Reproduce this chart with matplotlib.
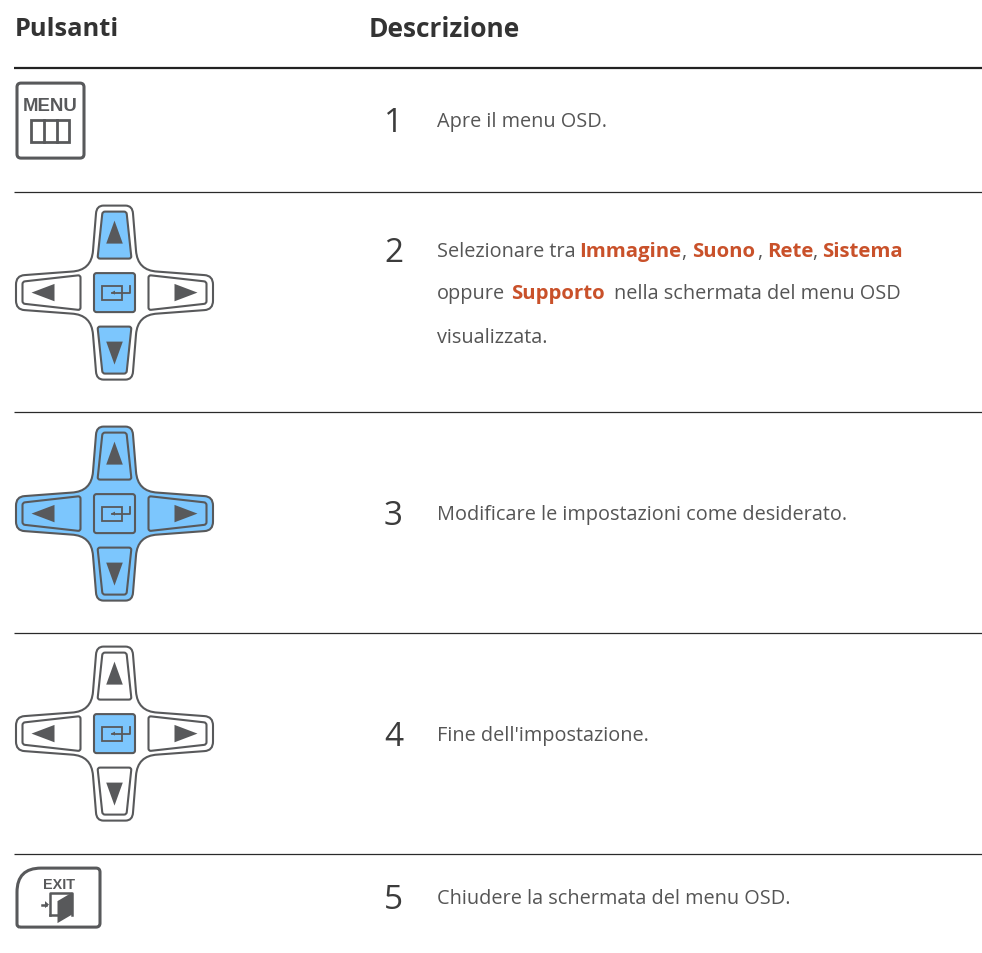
import matplotlib
matplotlib.use("Agg")
import matplotlib.pyplot as plt
import numpy as np
from matplotlib.path import Path
from matplotlib.patches import PathPatch, Polygon, FancyBboxPatch

W, H = 982, 954
GREY = "#58595b"
BLUE = "#7cc6fd"
ORANGE = "#c9512a"
TXT = "#555555"
DARK = "#3c3c3c"
FONT = "Open Sans"

headers = ["Pulsanti", "Descrizione"]
header_size = [18.3, 19.0]
numbers = ["1", "2", "3", "4", "5"]
number_y = [119, 249, 512, 733, 896]
rule_y = [192, 412, 633, 854]
pad_y = [293, 514, 734]
pad_fill = [
    dict(body=False, up=True, down=True, left=False, right=False, centre=True),
    dict(body=True, up=True, down=True, left=True, right=True, centre=True),
    dict(body=False, up=False, down=False, left=False, right=False, centre=True),
]
descriptions = [
    (437, 119, "Apre il menu OSD.", False),
    (437, 249, "Selezionare tra", False),
    (579, 249, "Immagine", True),
    (681, 249, ",", False),
    (692, 249, "Suono", True),
    (757, 249, ",", False),
    (767, 249, "Rete", True),
    (812, 249, ",", False),
    (822, 249, "Sistema", True),
    (437, 291, "oppure", False),
    (511, 291, "Supporto", True),
    (614, 291, "nella schermata del menu OSD", False),
    (437, 335, "visualizzata.", False),
    (437, 512, "Modificare le impostazioni come desiderato.", False),
    (437, 733, "Fine dell'impostazione.", False),
    (437, 896, "Chiudere la schermata del menu OSD.", False),
]

fig = plt.figure(figsize=(W / 100, H / 100), dpi=100)
ax = fig.add_axes([0, 0, 1, 1])
ax.set_xlim(0, W)
ax.set_ylim(H - 0.6, -0.6)
ax.axis("off")


def shape(verts, codes, fc="none", ec=GREY, lw=1.4, z=2):
    ax.add_patch(PathPatch(Path(verts, codes), facecolor=fc, edgecolor=ec, linewidth=lw, zorder=z,
                           joinstyle="round"))


M, L, C, Z = Path.MOVETO, Path.LINETO, Path.CURVE3, Path.CLOSEPOLY


def cross(cx, cy, fc):
    v, c = [(cx - 11, cy - 87)], [M]
    q = [((11, -87), L), ((18, -87), C), ((18.5, -79), C), ((21.5, -42), L), ((23, -22), C), ((43, -21), C),
         ((90, -17.5), L), ((98.5, -17), C), ((98.5, -8), C), ((98.5, 8), L), ((98.5, 17), C), ((90, 17.5), C),
         ((43, 21), L), ((23, 22), C), ((21.5, 42), C), ((18.5, 79), L), ((18, 87), C), ((11, 87), C),
         ((-11, 87), L), ((-18, 87), C), ((-18.5, 79), C), ((-21.5, 42), L), ((-23, 22), C), ((-43, 21), C),
         ((-90, 17.5), L), ((-98.5, 17), C), ((-98.5, 8), C), ((-98.5, -8), L), ((-98.5, -17), C), ((-90, -17.5), C),
         ((-43, -21), L), ((-23, -22), C), ((-21.5, -42), C), ((-18.5, -79), L), ((-18, -87), C), ((-11, -87), C)]
    for (dx, dy), code in q:
        v.append((cx + dx, cy + dy))
        c.append(code)
    v.append(v[0])
    c.append(Z)
    shape(v, c, fc=fc, lw=1.5, z=1)


def button(pts, fc):
    r = 2.5
    v, c = [], []
    n = len(pts)
    for i in range(n):
        p = np.array(pts[i], float)
        a = np.array(pts[i - 1], float)
        b = np.array(pts[(i + 1) % n], float)
        p1 = p + (a - p) / np.linalg.norm(a - p) * r
        p2 = p + (b - p) / np.linalg.norm(b - p) * r
        v += [tuple(p1), tuple(p), tuple(p2)]
        c += [M if i == 0 else L, C, C]
    v.append(v[0])
    c.append(Z)
    shape(v, c, fc=fc if fc else "white", lw=1.5, z=3)


def tri(pts):
    ax.add_patch(Polygon(pts, closed=True, facecolor=GREY, edgecolor="none", zorder=4))


def dpad(cx, cy, s):
    cross(cx, cy, BLUE if s["body"] else "white")
    base = BLUE if s["body"] else None
    button([(cx - 12, cy - 81), (cx + 12, cy - 81), (cx + 17, cy - 34), (cx - 17, cy - 34)],
           BLUE if s["up"] else base)
    button([(cx - 17, cy + 34), (cx + 17, cy + 34), (cx + 12, cy + 81), (cx - 12, cy + 81)],
           BLUE if s["down"] else base)
    button([(cx - 92, cy - 11), (cx - 34, cy - 17.5), (cx - 34, cy + 17.5), (cx - 92, cy + 11)],
           BLUE if s["left"] else base)
    button([(cx + 34, cy - 17.5), (cx + 92, cy - 11), (cx + 92, cy + 11), (cx + 34, cy + 17.5)],
           BLUE if s["right"] else base)
    button([(cx - 20.5, cy - 19.5), (cx + 20.5, cy - 19.5), (cx + 20.5, cy + 19.5), (cx - 20.5, cy + 19.5)],
           BLUE if s["centre"] else base)
    tri([(cx, cy - 72), (cx - 8.3, cy - 49), (cx + 8.3, cy - 49)])
    tri([(cx, cy + 72), (cx - 8.3, cy + 49), (cx + 8.3, cy + 49)])
    tri([(cx - 83, cy), (cx - 60, cy - 8.7), (cx - 60, cy + 8.7)])
    tri([(cx + 83, cy), (cx + 60, cy - 8.7), (cx + 60, cy + 8.7)])
    # enter glyph
    ax.add_patch(plt.Rectangle((cx - 12, cy - 7), 20, 14, fc="none", ec=GREY, lw=1.3, zorder=5))
    ax.plot([cx + 16, cx + 16, cx - 2], [cy - 7, cy, cy], color=GREY, lw=1.3, zorder=5)
    tri([(cx - 3.5, cy), (cx + 0.5, cy - 2), (cx + 0.5, cy + 2)])


# rules
ax.plot([14, 982], [68, 68], color="#222222", lw=1.6, solid_capstyle="butt")
for y in rule_y:
    ax.plot([14, 982], [y, y], color="#2a2a2a", lw=0.9, solid_capstyle="butt")

# header
ax.text(15, 26, headers[0], fontsize=header_size[0], fontweight="bold", family=FONT, color="#333333",
        va="center_baseline")
ax.text(369, 26, headers[1], fontsize=header_size[1], fontweight="bold", family=FONT, color="#333333",
        va="center_baseline")

# numbers and body
for n, y in zip(numbers, number_y):
    ax.text(393.5, y, n, fontsize=24, family=FONT, color=DARK, ha="center", va="center_baseline")
for x, y, s, b in descriptions:
    ax.text(x, y, s, fontsize=14.7 if b else 14.3, family=FONT, color=ORANGE if b else TXT,
            fontweight="bold" if b else "normal", va="center_baseline")

# MENU key
ax.add_patch(FancyBboxPatch((17, 83.5), 67, 75, boxstyle="round,pad=0,rounding_size=4",
                            fc="white", ec=GREY, lw=2.2, zorder=2))
ax.text(50, 105.5, "MENU", family="Liberation Sans", fontweight="bold", fontsize=13.4, color=GREY,
        ha="center", va="center", zorder=3)
ax.add_patch(plt.Rectangle((31.5, 120.5), 38, 21.5, fc="white", ec=GREY, lw=2, zorder=3))
ax.plot([44, 44], [120.5, 142], color=GREY, lw=2, zorder=4)
ax.plot([57, 57], [120.5, 142], color=GREY, lw=2, zorder=4)

# direction pads
for y, s in zip(pad_y, pad_fill):
    dpad(114.5, y, s)

# EXIT key
x0, x1, y0, y1 = 17, 100, 868.5, 927.5
shape([(x0 + 3, y1), (x0, y1), (x0, y1 - 3), (x0, y0 + 24), (x0, y0), (x0 + 24, y0),
       (x1 - 4, y0), (x1, y0), (x1, y0 + 4), (x1, y1 - 4), (x1, y1), (x1 - 4, y1), (x0 + 3, y1)],
      [M, C, C, L, C, C, L, C, C, L, C, C, L], fc="white", lw=2.2)
ax.text(59, 884, "EXIT", family="Liberation Sans", fontweight="bold", fontsize=10.4, color=GREY,
        ha="center", va="center", zorder=3)
ax.plot([50.5, 50.5, 72, 72], [915, 893, 893, 915], color=GREY, lw=1.8, zorder=3)
ax.plot([50.5, 58], [915, 915], color=GREY, lw=1.8, zorder=3)
tri([(57.5, 901.5), (72, 893), (72, 915), (57.5, 923.5)])
ax.plot([42, 46], [905, 905], color=GREY, lw=1.8, zorder=3)
tri([(49, 905), (45, 901.5), (45, 908.5)])

fig.savefig("out.png", dpi=100, facecolor="white")
